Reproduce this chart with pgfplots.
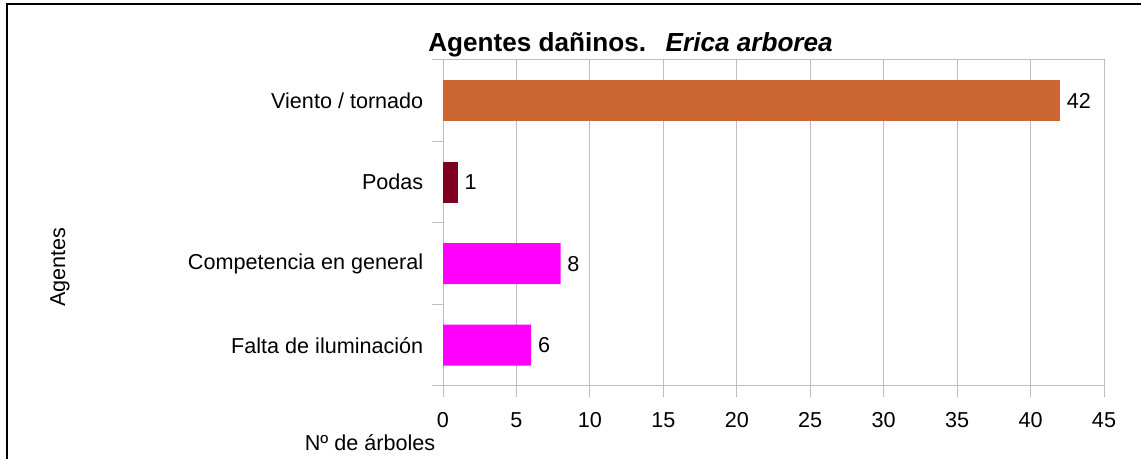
\documentclass[border=0pt]{standalone}
\usepackage{pgfplots}
\pgfplotsset{compat=1.18}
\usepackage{fontspec}
\setmainfont{Liberation Sans}
\definecolor{barorange}{RGB}{204,102,51}
\definecolor{bardark}{RGB}{128,0,32}
\definecolor{barmag}{RGB}{255,0,255}
\definecolor{gridgray}{RGB}{190,190,190}
\begin{document}
\begin{tikzpicture}
\useasboundingbox (0,0) rectangle (855.75pt,344.25pt);
\fill[white] (0,0) rectangle (855.75pt,344.25pt);
\draw[line width=1.5pt] (5.25pt,0) -- (5.25pt,341.25pt) -- (855.75pt,341.25pt);
\begin{axis}[
  at={(332.25pt,54.75pt)}, anchor=south west,
  scale only axis, width=495.75pt, height=244.5pt,
  xbar, bar width=30.75pt, bar shift=0pt,
  xmin=0, xmax=45, ymin=-0.5, ymax=3.5,
  xtick={0,5,...,45},
  ytick={0,1,2,3},
  yticklabels={Falta de iluminación,Competencia en general,Podas,Viento / tornado},
  minor ytick={-0.5,0.5,1.5,2.5,3.5},
  xtick pos=bottom, ytick pos=left,
  xmajorgrids, major grid style={gridgray, line width=0.75pt},
  axis line style={gridgray, line width=0.75pt},
  tick align=outside,
  major x tick style={gridgray, line width=0.75pt},
  major y tick style={draw=none},
  minor y tick style={gridgray, line width=0.75pt},
  major tick length=8.25pt, minor tick length=8.25pt,
  tick label style={font=\fontsize{16.2}{19}\selectfont, text=black},
  /pgf/number format/assume math mode=true,
  xticklabel style={yshift=-8pt},
  yticklabel style={xshift=-3pt},
  nodes near coords,
  nodes near coords style={font=\fontsize{16.2}{19}\selectfont, anchor=west, inner sep=0pt, xshift=5pt, text=black},
  every axis plot/.append style={draw=none},
  clip=false,
]
\addplot[fill=barmag] coordinates {(6,0) (8,1)};
\addplot[fill=bardark] coordinates {(1,2)};
\addplot[fill=barorange] coordinates {(42,3)};
\end{axis}
\node[anchor=west, font=\fontsize{19.6}{22}\selectfont\bfseries, inner sep=0pt] at (321pt,310.5pt) {Agentes dañinos.\hspace{0.75em}\textit{Erica arborea}};
\node[font=\fontsize{16.2}{19}\selectfont, inner sep=0pt] at (277.5pt,12pt) {Nº de árboles};
\node[font=\fontsize{16.2}{19}\selectfont, inner sep=0pt, rotate=90] at (45pt,144pt) {Agentes};
\end{tikzpicture}
\end{document}
